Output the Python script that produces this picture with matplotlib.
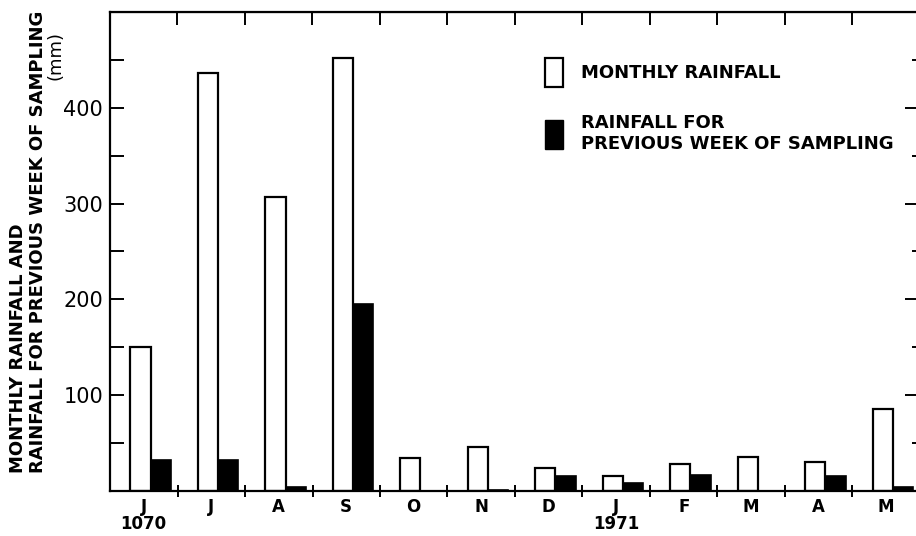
import matplotlib
matplotlib.use("Agg")
import matplotlib.pyplot as plt
import numpy as np
from matplotlib.patches import Patch
from matplotlib.ticker import FixedLocator, NullFormatter

# Data (mm)
months = ['J', 'J', 'A', 'S', 'O', 'N', 'D', 'J', 'F', 'M', 'A', 'M']
years = {0: '1070', 7: '1971'}
monthly_rain = [150, 436, 307, 452, 34, 46, 24, 16, 28, 36, 30, 86]
prev_week_rain = [32, 32, 4, 195, 0, 1, 16, 8, 17, 0, 16, 4]
y_major = [100, 200, 300, 400]
y_minor = [50, 150, 250, 350, 450]

W, H = 916, 536
fig = plt.figure(figsize=(W / 100, H / 100), dpi=100)
ax = fig.add_axes([110 / W, (H - 491) / H, 810 / W, 479 / H])

x = np.arange(len(months))
bw = 0.3
ax.bar(x - bw / 6, monthly_rain, width=bw, facecolor='white',
       edgecolor='black', linewidth=1.6, align='center')
ax.bar(x - bw / 6 + bw, prev_week_rain, width=bw, facecolor='black',
       edgecolor='black', linewidth=1.2, align='center')

ax.set_xlim(-0.5, len(months) - 0.5)
ax.set_ylim(0, 500)

# spines
for s in ['left', 'bottom', 'top']:
    ax.spines[s].set_linewidth(1.6)
ax.spines['right'].set_visible(False)

# x axis: labels at group centres, small ticks between groups
labels = [m + ('\n' + years[i] if i in years else '') for i, m in enumerate(months)]
ax.set_xticks(x)
ax.set_xticklabels(labels, fontsize=12, fontweight='bold', linespacing=0.95)
ax.xaxis.set_minor_locator(FixedLocator(x[:-1] + 0.5))
ax.tick_params(axis='x', which='major', length=0, pad=5)
ax.tick_params(axis='x', which='minor', direction='inout', length=9, width=1.4)

# y axis
ax.set_yticks(y_major)
ax.set_yticklabels([str(v) for v in y_major], fontsize=15)
ax.yaxis.set_minor_locator(FixedLocator(y_minor))
ax.tick_params(axis='y', which='both', direction='in', length=10, width=1.4,
               pad=5, right=False)

# top ticks
top = ax.secondary_xaxis('top')
top.set_xticks(x[:-1] + 0.5)
top.xaxis.set_major_formatter(NullFormatter())
top.tick_params(direction='in', length=9, width=1.4)

# right ticks (spine sits off the edge of the scan)
right = ax.secondary_yaxis('right')
right.set_yticks(y_major)
right.yaxis.set_minor_locator(FixedLocator(y_minor))
right.yaxis.set_major_formatter(NullFormatter())
right.spines['right'].set_visible(False)
right.tick_params(which='major', direction='in', length=11, width=1.4)
right.tick_params(which='minor', direction='in', length=6, width=1.4)

# y label, three lines as in the original lettering
fig.text(18 / W, 1 - 473 / H, 'MONTHLY RAINFALL AND', rotation=90,
         ha='center', va='bottom', fontsize=13, fontweight='bold')
fig.text(38 / W, 1 - 473 / H, 'RAINFALL FOR PREVIOUS WEEK OF SAMPLING',
         rotation=90, ha='center', va='bottom', fontsize=13, fontweight='bold')
fig.text(56 / W, 1 - 55 / H, '(mm)', rotation=90, ha='center', va='center',
         fontsize=13)

handles = [Patch(facecolor='white', edgecolor='black', linewidth=1.6),
           Patch(facecolor='black', edgecolor='black')]
fig.legend(handles, ['MONTHLY RAINFALL', 'RAINFALL FOR\nPREVIOUS WEEK OF SAMPLING'],
           loc='upper left', bbox_to_anchor=(545 / W, 1 - 58 / H),
           frameon=False, borderpad=0, borderaxespad=0,
           prop={'size': 13, 'weight': 'bold'}, handlelength=1.0,
           handleheight=2.1, handletextpad=1.0, labelspacing=1.5)

fig.savefig('out.png', dpi=100)
